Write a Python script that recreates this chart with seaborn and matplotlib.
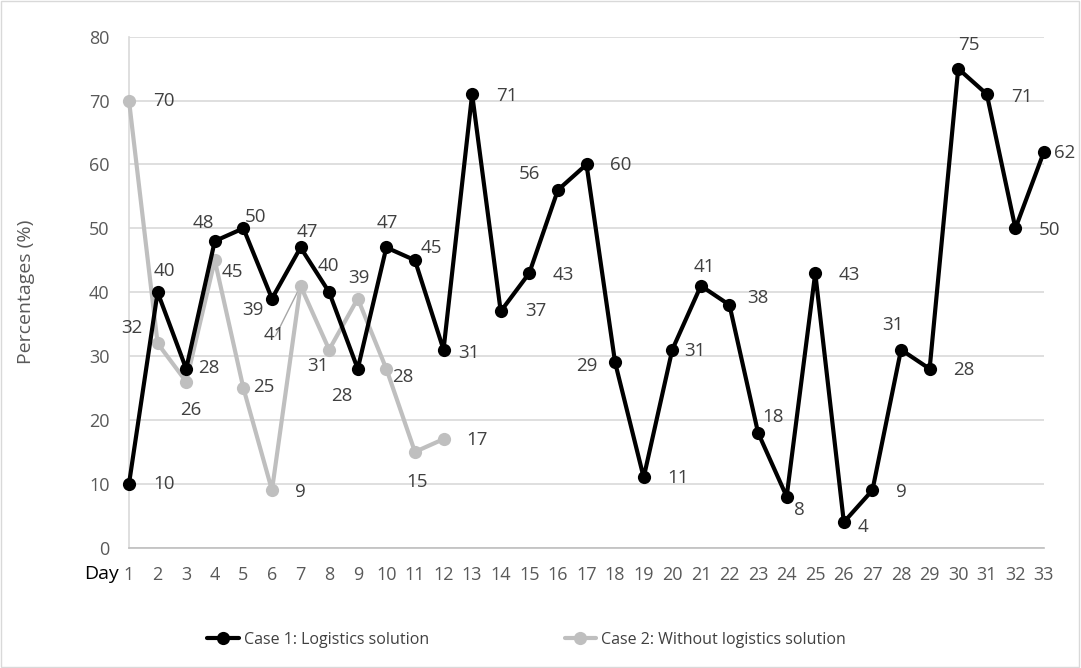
import matplotlib
matplotlib.use("Agg")
import matplotlib.pyplot as plt
import seaborn as sns
import pandas as pd
from matplotlib.patches import Rectangle
from matplotlib.lines import Line2D

days_case1 = list(range(1, 34))
case1 = [10, 40, 28, 48, 50, 39, 47, 40, 28, 47, 45, 31, 71, 37, 43, 56, 60,
         29, 11, 31, 41, 38, 18, 8, 43, 4, 9, 31, 28, 75, 71, 50, 62]
days_case2 = list(range(1, 13))
case2 = [70, 32, 26, 45, 25, 9, 41, 31, 39, 28, 15, 17]
series_names = ["Case 1: Logistics solution", "Case 2: Without logistics solution"]
y_ticks = [0, 10, 20, 30, 40, 50, 60, 70, 80]

# label offsets in pixels (layout only)
off1 = [(35, 0), (7, 21), (23, 1), (-11, 18), (12, 11), (-19, -11), (7, 15), (-1, 26),
        (-16, -27), (1, 24), (16, 12), (25, -3), (35, -2), (35, 0), (34, -2), (-28, 16),
        (34, -1), (-28, -4), (34, -1), (23, -1), (4, 19), (28, 7), (15, 16), (13, -13),
        (34, -2), (19, -5), (29, -2), (-8, 25), (34, -1), (11, 24), (35, -3), (34, -2),
        (21, -1)]
off2 = [(35, 0), (-26, 15), (5, -28), (18, -12), (20, 1), (28, -2), (-26, -49), (-11, -16),
        (1, 21), (16, -8), (2, -30), (34, -1)]

sns.set_theme(style="white")
plt.rcParams['font.family'] = ['Open Sans', 'DejaVu Sans']

fig = plt.figure(figsize=(10.81, 6.68), dpi=100)
ax = fig.add_axes([129 / 1081, 1 - 547.7 / 668, (1044 - 129) / 1081, (547.7 - 36.7) / 668])

df1 = pd.DataFrame({"Day": days_case1, "Value": case1})
df2 = pd.DataFrame({"Day": days_case2, "Value": case2})

c1 = "#000000"
c2 = "#bfbfbf"
sns.lineplot(data=df1, x="Day", y="Value", ax=ax, color=c1, lw=3, marker="o",
             markersize=9.5, markeredgewidth=0, zorder=4, clip_on=False)
sns.lineplot(data=df2, x="Day", y="Value", ax=ax, color=c2, lw=3, marker="o",
             markersize=9.5, markeredgewidth=0, zorder=3, clip_on=False)

ax.set_xlim(1, 33)
ax.set_ylim(0, 80)
ax.set_yticks(y_ticks)
ax.set_xticks(days_case1)
ax.set_xticklabels([str(d) for d in days_case1])
ax.grid(axis="y", color="#d9d9d9", lw=1.2)
ax.set_axisbelow(True)
for s in ["top", "right"]:
    ax.spines[s].set_visible(False)
ax.spines["left"].set_color("#d9d9d9")
ax.spines["left"].set_linewidth(1.2)
ax.spines["bottom"].set_color("#bfbfbf")
ax.spines["bottom"].set_linewidth(1.2)
ax.tick_params(axis="both", length=0, labelsize=13, colors="#595959")
ax.tick_params(axis="x", pad=13)
ax.tick_params(axis="y", pad=14)
ax.set_xlabel("")
ax.set_ylabel("Percentages (%)", fontsize=14, color="#595959")
ax.yaxis.set_label_coords((35 - 129) / 915, 0.5)

fig.text(102 / 1081, 1 - 574 / 668, "Day", fontsize=14, color="black", ha="center", va="center")

for d, v, (dx, dy) in zip(days_case1, case1, off1):
    ax.annotate(str(v), (d, v), xytext=(dx, dy), textcoords="offset pixels",
                ha="center", va="center", fontsize=13.5, color="#404040", zorder=6)
for d, v, (dx, dy) in zip(days_case2, case2, off2):
    ax.annotate(str(v), (d, v), xytext=(dx, dy), textcoords="offset pixels",
                ha="center", va="center", fontsize=13.5, color="#404040", zorder=6)

# leader line for day 7 label of case 2
ax.annotate("", (7, 41), xytext=(-25, -50), textcoords="offset pixels",
            arrowprops=dict(arrowstyle="-", color="#a6a6a6", lw=1, shrinkA=0, shrinkB=0), zorder=2)

handles = [Line2D([], [], color=c1, lw=3, marker="o", markersize=9.5, markeredgewidth=0),
           Line2D([], [], color=c2, lw=3, marker="o", markersize=9.5, markeredgewidth=0)]
leg = fig.legend(handles, series_names, loc="center", bbox_to_anchor=(0.487, 1 - 640 / 668),
                 ncol=2, frameon=False, fontsize=11.5, columnspacing=8.5, handlelength=2.0,
                 handletextpad=0.3)
for t in leg.get_texts():
    t.set_color("#404040")

fig.patches.append(Rectangle((0.001, 0.002), 0.997, 0.996, transform=fig.transFigure,
                             fill=False, edgecolor="#d9d9d9", lw=1))

fig.savefig("out.png", dpi=100)
